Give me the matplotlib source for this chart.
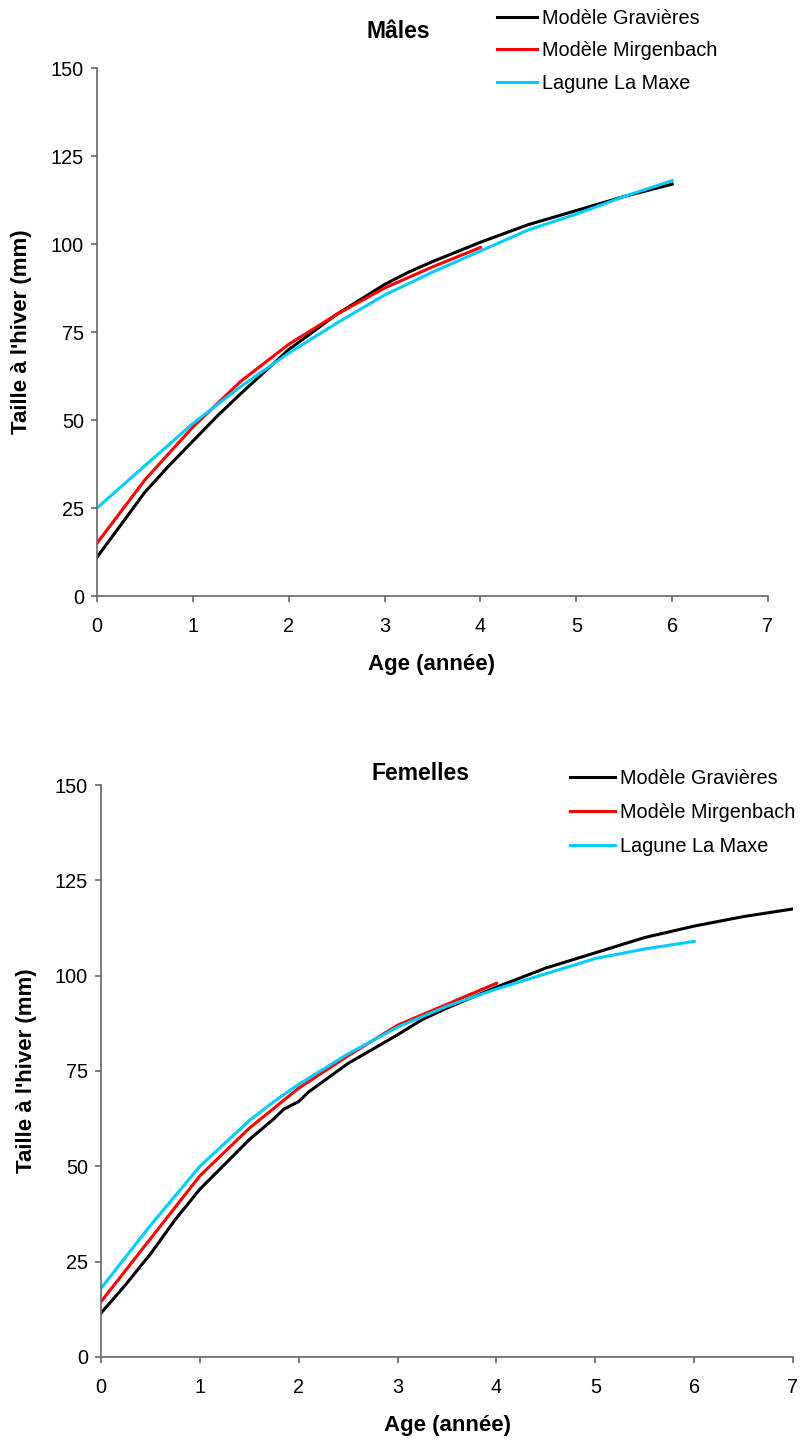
import matplotlib
matplotlib.use("Agg")
import matplotlib.pyplot as plt

plt.rcParams['font.family'] = ['Liberation Sans', 'DejaVu Sans']

labels = ['Modèle Gravières', 'Modèle Mirgenbach', 'Lagune La Maxe']
colors = ['black', '#FF0000', '#00CCFF']

# Mâles
m_grav_x = [0, 0.5, 0.75, 1, 1.25, 1.5, 2, 2.5, 3, 3.25, 3.5, 4, 4.5, 5, 5.5, 6]
m_grav_y = [11, 29.5, 37, 44, 51, 57.5, 70, 80, 88.5, 92, 95, 100.5, 105.5, 109.5, 113.5, 117]
m_mirg_x = [0, 0.5, 1, 1.5, 2, 2.5, 3, 3.5, 4]
m_mirg_y = [15, 33, 48, 61, 71.5, 80, 87.5, 93.5, 99]
m_lag_x = [0, 0.5, 1, 1.5, 2, 2.5, 3, 3.5, 4, 4.5, 5, 5.5, 6]
m_lag_y = [25, 37, 49, 59.5, 69, 77.5, 85.5, 92, 98, 104, 108.5, 113.5, 118]

# Femelles
f_grav_x = [0, 0.25, 0.5, 0.75, 1, 1.25, 1.5, 1.75, 1.85, 2, 2.1, 2.5, 3, 3.25, 3.5, 4, 4.5, 5, 5.5, 6, 6.5, 7]
f_grav_y = [11.5, 19, 27, 36, 44, 50.5, 57, 62.5, 65, 67, 69.5, 77, 84.5, 88.5, 91.5, 97, 102, 106, 110, 113, 115.5, 117.5]
f_mirg_x = [0, 0.5, 1, 1.5, 2, 2.5, 3, 3.5, 4]
f_mirg_y = [14.5, 31, 47.5, 60, 70.5, 79, 87, 92.5, 98]
f_lag_x = [0, 0.5, 1, 1.5, 1.75, 2, 2.5, 3, 3.5, 4, 4.5, 5, 5.5, 6]
f_lag_y = [18, 34.5, 50, 62, 67, 71.5, 79.5, 86.5, 92, 96.5, 100.5, 104.5, 107, 109]

W, H = 801, 1441
fig = plt.figure(figsize=(W / 100, H / 100), dpi=100)
ax1 = fig.add_axes([97 / W, 1 - 596 / H, 671 / W, 528 / H])
ax2 = fig.add_axes([101 / W, 1 - 1357 / H, 692 / W, 572 / H])


def style(ax, title, title_xy, leg_xy, handlelen, lspace, xlab_xy, ylab_xy):
    ax.set_xlim(0, 7)
    ax.set_ylim(0, 150)
    ax.set_xticks(range(8))
    ax.set_yticks([0, 25, 50, 75, 100, 125, 150])
    ax.spines['top'].set_visible(False)
    ax.spines['right'].set_visible(False)
    for s in ['left', 'bottom']:
        ax.spines[s].set_color('#666666')
        ax.spines[s].set_linewidth(1.2)
    ax.tick_params(direction='out', length=4.3, width=1.2, color='#666666',
                   labelsize=14.3)
    ax.tick_params(axis='x', pad=11)
    ax.tick_params(axis='y', pad=5)
    # axis labels placed as figure text
    fig.text(xlab_xy[0], xlab_xy[1], 'Age (année)', fontsize=16, fontweight='bold',
             ha='center', va='center')
    fig.text(ylab_xy[0], ylab_xy[1], "Taille à l'hiver (mm)", fontsize=16,
             fontweight='bold', ha='center', va='center', rotation=90)
    fig.text(title_xy[0], title_xy[1], title, fontsize=16.5, fontweight='bold',
             ha='center', va='center')
    ax.legend(loc='upper left', bbox_to_anchor=leg_xy, bbox_transform=fig.transFigure,
              frameon=False, fontsize=14.3, handlelength=handlelen, handletextpad=0.28,
              labelspacing=lspace, borderpad=0, borderaxespad=0)


ax1.plot(m_grav_x, m_grav_y, color=colors[0], lw=2.2, label=labels[0])
ax1.plot(m_mirg_x, m_mirg_y, color=colors[1], lw=2.2, label=labels[1])
ax1.plot(m_lag_x, m_lag_y, color=colors[2], lw=2.2, label=labels[2])
style(ax1, 'Mâles', (398 / W, 1 - 32 / H), (497 / W, 1 - 8.5 / H), 2.0, 0.69,
      (432 / W, 1 - 665 / H), (22 / W, 1 - 332 / H))

ax2.plot(f_grav_x, f_grav_y, color=colors[0], lw=2.2, label=labels[0])
ax2.plot(f_mirg_x, f_mirg_y, color=colors[1], lw=2.2, label=labels[1])
ax2.plot(f_lag_x, f_lag_y, color=colors[2], lw=2.2, label=labels[2])
style(ax2, 'Femelles', (421 / W, 1 - 773 / H), (570 / W, 1 - 769 / H), 2.26, 0.76,
      (447 / W, 1 - 1425 / H), (27 / W, 1 - 1071 / H))

fig.savefig('out.png', dpi=100)
